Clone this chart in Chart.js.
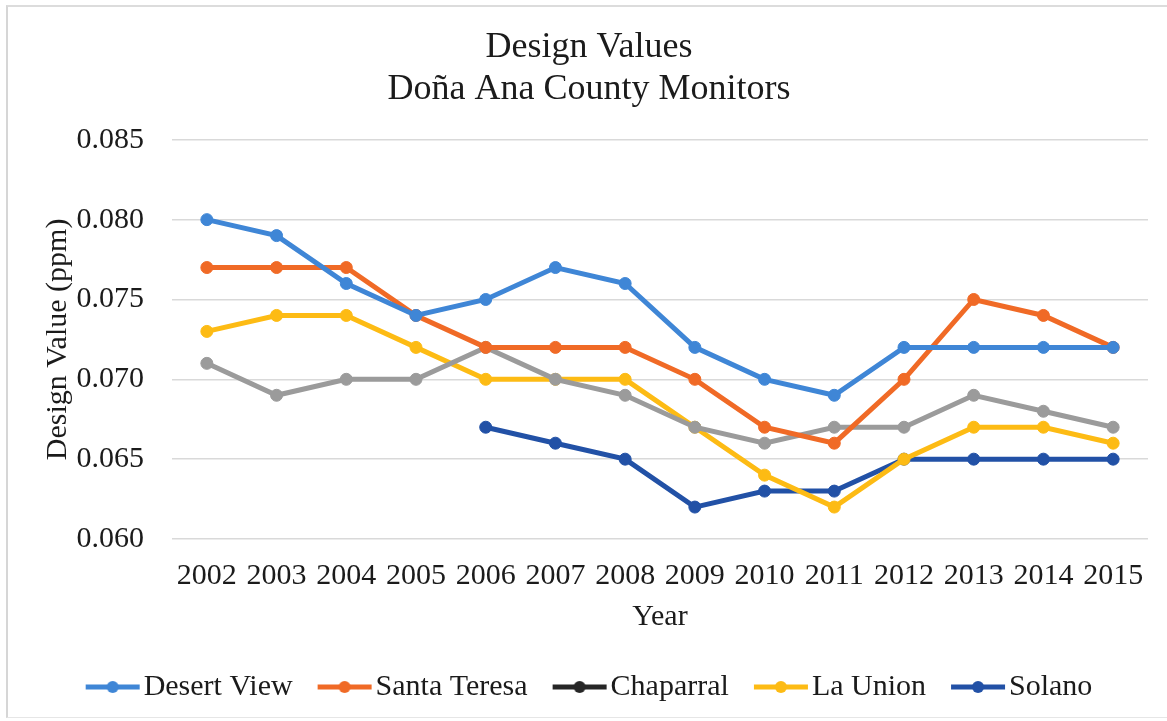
<!DOCTYPE html>
<html>
<head>
<meta charset="utf-8">
<title>Design Values - Doña Ana County Monitors</title>
<script src="https://cdn.jsdelivr.net/npm/chart.js@4/dist/chart.umd.min.js"></script>
<style>
  html, body { margin: 0; padding: 0; background: #ffffff; }
  #wrap { position: relative; width: 1167px; height: 721px; }
  #frame { position: absolute; left: 6px; top: 5px; width: 1170px; height: 713px;
           border-left: 2px solid #d6d6d6; border-top: 2px solid #dcdcdc; border-bottom: 1px solid #e6e6e6; box-sizing: border-box; }
  canvas { position: absolute; left: 0; top: 0; }
</style>
</head>
<body>
<div id="wrap">
  <div id="frame"></div>
  <canvas id="chart" width="1167" height="721"></canvas>
</div>
<script>
// Ozone design values (ppm) by monitor, 2002–2015
const years = ['2002','2003','2004','2005','2006','2007','2008','2009','2010','2011','2012','2013','2014','2015'];

const desertView  = [0.080, 0.079, 0.076, 0.074, 0.075, 0.077, 0.076, 0.072, 0.070, 0.069, 0.072, 0.072, 0.072, 0.072];
const santaTeresa = [0.077, 0.077, 0.077, 0.074, 0.072, 0.072, 0.072, 0.070, 0.067, 0.066, 0.070, 0.075, 0.074, 0.072];
const chaparral   = [0.071, 0.069, 0.070, 0.070, 0.072, 0.070, 0.069, 0.067, 0.066, 0.067, 0.067, 0.069, 0.068, 0.067];
const laUnion     = [0.073, 0.074, 0.074, 0.072, 0.070, 0.070, 0.070, 0.067, 0.064, 0.062, 0.065, 0.067, 0.067, 0.066];
const solano      = [null, null, null, null, 0.067, 0.066, 0.065, 0.062, 0.063, 0.063, 0.065, 0.065, 0.065, 0.065];

const seriesNames = ['Desert View', 'Santa Teresa', 'Chaparral', 'La Union', 'Solano'];
const seriesData  = [desertView, santaTeresa, chaparral, laUnion, solano];
const lineColors  = ['#3f86d6', '#f06a26', '#9b9b9b', '#fdbb14', '#2251a6'];
const keyColors   = ['#3f86d6', '#f06a26', '#262626', '#fdbb14', '#2251a6'];

const yTicks = { min: 0.060, max: 0.085, step: 0.005 };

const FONT = "'Liberation Serif', 'Times New Roman', serif";
const INK = '#1b1b1b';

// Legend key: a short thick line with a dot, drawn into its own little canvas
const KEY_SLOT = 43;      // space reserved for the key before the label text
const KEY_LEN = 54;       // drawn length of the key line
function makeKey(color) {
  const w = 2 * (KEY_LEN - KEY_SLOT / 2) + 2;
  const h = 16;
  const c = document.createElement('canvas');
  c.width = w; c.height = h;
  const g = c.getContext('2d');
  const x0 = w / 2 - KEY_SLOT / 2;
  g.strokeStyle = color;
  g.lineWidth = 5;
  g.lineCap = 'butt';
  g.beginPath();
  g.moveTo(x0, h / 2);
  g.lineTo(x0 + KEY_LEN, h / 2);
  g.stroke();
  g.fillStyle = color;
  g.beginPath();
  g.arc(x0 + KEY_LEN / 2, h / 2, 6, 0, Math.PI * 2);
  g.fill();
  return c;
}
const keyImages = keyColors.map(makeKey);

const datasets = seriesNames.map((name, i) => ({
  label: name,
  data: seriesData[i],
  borderColor: lineColors[i],
  backgroundColor: lineColors[i],
  pointBackgroundColor: lineColors[i],
  pointBorderColor: lineColors[i],
  borderWidth: 5,
  pointRadius: 6,
  pointHoverRadius: 6,
  pointBorderWidth: 1,
  tension: 0,
  spanGaps: false
}));

new Chart(document.getElementById('chart'), {
  type: 'line',
  data: { labels: years, datasets },
  options: {
    responsive: false,
    animation: false,
    devicePixelRatio: 1,
    layout: { padding: { left: 30, right: 19, top: 0, bottom: 9 } },
    plugins: {
      tooltip: { enabled: false },
      title: {
        display: true,
        text: ['Design Values', 'Doña Ana County Monitors'],
        color: INK,
        font: { family: FONT, size: 36, weight: 'normal', lineHeight: 1.15 },
        padding: { top: 27, bottom: 30 }
      },
      legend: {
        position: 'bottom',
        labels: {
          color: INK,
          font: { family: FONT, size: 30 },
          usePointStyle: true,
          pointStyleWidth: KEY_SLOT,
          boxHeight: 30,
          padding: 25,
          generateLabels(chart) {
            const items = Chart.defaults.plugins.legend.labels.generateLabels(chart);
            items.forEach(it => { it.pointStyle = keyImages[it.datasetIndex]; it.rotation = 0; });
            return items;
          }
        }
      }
    },
    scales: {
      x: {
        offset: true,
        grid: { display: false, offset: true },
        border: { display: false },
        ticks: { color: INK, font: { family: FONT, size: 30 }, padding: 11, maxRotation: 0, autoSkip: false },
        title: { display: true, text: 'Year', color: INK, font: { family: FONT, size: 30 }, padding: { top: -6, bottom: 12 } }
      },
      y: {
        min: yTicks.min,
        max: yTicks.max,
        grid: { color: '#d9d9d9', lineWidth: 1.5, drawTicks: false },
        border: { display: false },
        ticks: {
          stepSize: yTicks.step,
          color: INK,
          font: { family: FONT, size: 30 },
          padding: 28,
          callback: v => Number(v).toFixed(3)
        },
        title: { display: true, text: 'Design Value (ppm)', color: INK, font: { family: FONT, size: 30 }, padding: { top: 10, bottom: 2 } },
        afterFit(scale) { scale.width = 142; }
      }
    }
  }
});
</script>
</body>
</html>
